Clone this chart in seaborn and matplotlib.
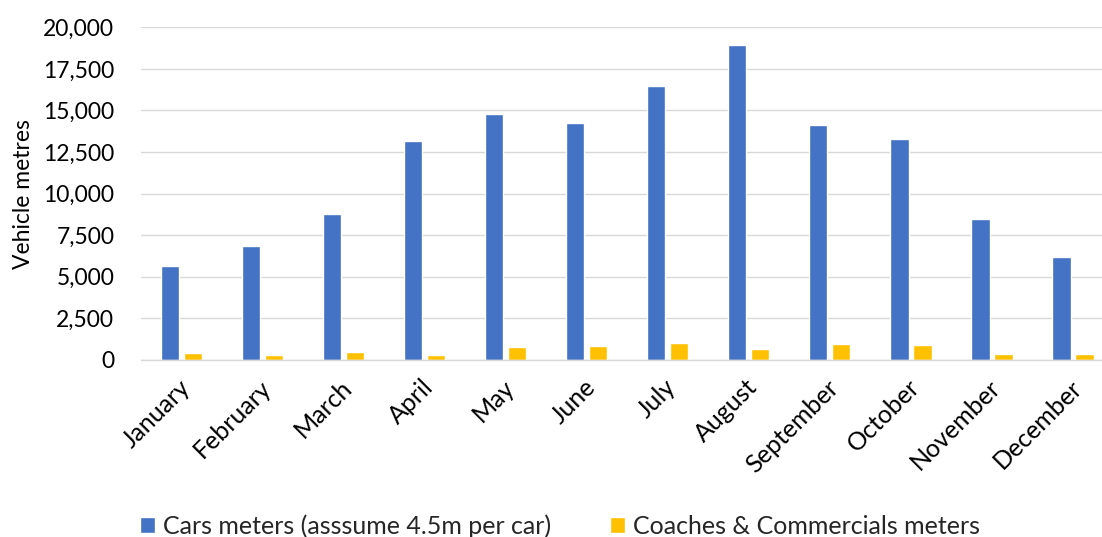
import matplotlib
matplotlib.use("Agg")
import matplotlib.pyplot as plt
import matplotlib.transforms as mtransforms
import seaborn as sns
import pandas as pd
from matplotlib.ticker import FuncFormatter

months = ["January", "February", "March", "April", "May", "June", "July",
          "August", "September", "October", "November", "December"]
cars_m = [5630, 6850, 8760, 13170, 14770, 14230, 16470, 18920, 14110, 13290, 8480, 6210]
coaches_m = [400, 300, 460, 280, 780, 840, 1040, 660, 940, 920, 340, 380]
series_names = ["Cars meters (asssume 4.5m per car)", "Coaches & Commercials meters"]
y_ticks = [0, 2500, 5000, 7500, 10000, 12500, 15000, 17500, 20000]

df = pd.DataFrame({
    "month": months * 2,
    "metres": cars_m + coaches_m,
    "series": [series_names[0]] * len(months) + [series_names[1]] * len(months),
})

sns.set_theme(style="white")
plt.rcParams["font.family"] = ["Lato", "DejaVu Sans"]

W, H = 1102, 537
fig = plt.figure(figsize=(W / 100, H / 100), dpi=100)
ax = fig.add_axes([140.7 / W, 1 - 360 / H, (1113.5 - 140.7) / W, (360 - 27.3) / H])

sns.barplot(data=df, x="month", y="metres", hue="series", order=months,
            hue_order=series_names, palette=["#4472C4", "#FFC000"],
            width=0.568, gap=0.2, saturation=1, ax=ax, legend=True)

ax.set_ylim(0, 20000)
ax.set_yticks(y_ticks)
ax.yaxis.set_major_formatter(FuncFormatter(lambda v, p: f"{int(v):,}"))
ax.grid(axis="y", color="#d9d9d9", linewidth=1.0)
ax.set_axisbelow(True)
for s in ["top", "right", "left"]:
    ax.spines[s].set_visible(False)
ax.spines["bottom"].set_color("#d9d9d9")
ax.spines["bottom"].set_linewidth(1.0)

ax.tick_params(axis="y", length=0, pad=19, labelsize=16.5, labelcolor="black")
ax.tick_params(axis="x", length=0, pad=17, labelsize=18, labelcolor="black")
shift = mtransforms.ScaledTranslation(5 / 100, 0, fig.dpi_scale_trans)
for lbl in ax.get_xticklabels():
    lbl.set_rotation(45)
    lbl.set_ha("right")
    lbl.set_va("center")
    lbl.set_rotation_mode("anchor")
    lbl.set_transform(lbl.get_transform() + shift)

ax.set_xlabel("")
ax.set_ylabel("Vehicle metres", fontsize=16.5, color="black")
ax.yaxis.set_label_coords(-0.110, 0.5)

handles, labels = ax.get_legend_handles_labels()
ax.get_legend().remove()
fig.legend(handles, labels, loc="center", bbox_to_anchor=(0.508, 0.02), ncol=2,
           frameon=False, fontsize=18, handlelength=0.62, handleheight=0.6,
           handletextpad=0.3, columnspacing=2.35, borderaxespad=0)

fig.savefig("out.png", dpi=100)
